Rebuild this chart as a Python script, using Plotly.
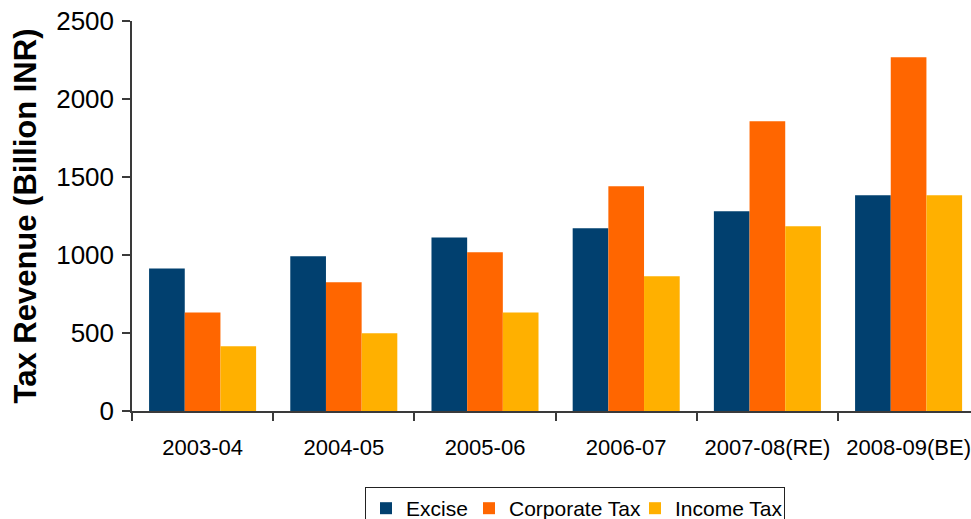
import plotly.graph_objects as go

# Tax revenue by fiscal year, billion INR
years = ["2003-04", "2004-05", "2005-06", "2006-07", "2007-08(RE)", "2008-09(BE)"]
excise = [914, 992, 1112, 1171, 1280, 1383]
corporate_tax = [632, 825, 1017, 1440, 1857, 2267]
income_tax = [415, 498, 632, 863, 1184, 1383]

series_names = ["Excise", "Corporate Tax", "Income Tax"]
series_colors = ["#01406F", "#FF6600", "#FFB000"]
y_ticks = [0, 500, 1000, 1500, 2000, 2500]

FONT = "Liberation Sans, Arial, sans-serif"
AXIS_COLOR = "#3a3a3a"

# per-entry widths keep the legend entries evenly packed
legend_widths = [58, 121, 104]

fig = go.Figure()
for name, vals, color, lw in zip(series_names, [excise, corporate_tax, income_tax],
                                 series_colors, legend_widths):
    fig.add_trace(go.Bar(x=years, y=vals, name=name, legendwidth=lw,
                         marker=dict(color=color, line=dict(width=0))))

fig.update_layout(
    width=971,
    height=519,
    margin=dict(l=132, r=0, t=21, b=108, autoexpand=False),
    paper_bgcolor="white",
    plot_bgcolor="white",
    barmode="group",
    bargap=0.242,
    bargroupgap=0,
    font=dict(family=FONT, color="#000000"),
    showlegend=True,
    legend=dict(
        orientation="h",
        x=(365 - 132) / 839,
        y=-0.195,
        xanchor="left",
        yanchor="top",
        bordercolor="#222222",
        borderwidth=1,
        font=dict(size=21, family=FONT, color="#000000"),
        itemwidth=30,
        traceorder="normal",
    ),
    xaxis=dict(
        type="category",
        range=[-0.5, 5.442],
        showline=True,
        linecolor=AXIS_COLOR,
        linewidth=1.5,
        ticks="outside",
        tickson="boundaries",
        ticklen=8,
        tickcolor=AXIS_COLOR,
        tickwidth=1.5,
        showgrid=False,
        tickfont=dict(size=22, family=FONT, color="#000000"),
        ticklabelstandoff=16,
    ),
    yaxis=dict(
        range=[0, 2500],
        tickvals=y_ticks,
        showline=True,
        linecolor=AXIS_COLOR,
        linewidth=1.5,
        ticks="outside",
        ticklen=8,
        tickcolor=AXIS_COLOR,
        tickwidth=1.5,
        showgrid=False,
        zeroline=False,
        tickfont=dict(size=26, family=FONT, color="#000000"),
        ticklabelstandoff=3,
        title=dict(
            text="<b>Tax Revenue (Billion INR)</b>",
            font=dict(size=31, family=FONT, color="#000000"),
            standoff=10,
        ),
    ),
)

fig.write_html("out.html")
